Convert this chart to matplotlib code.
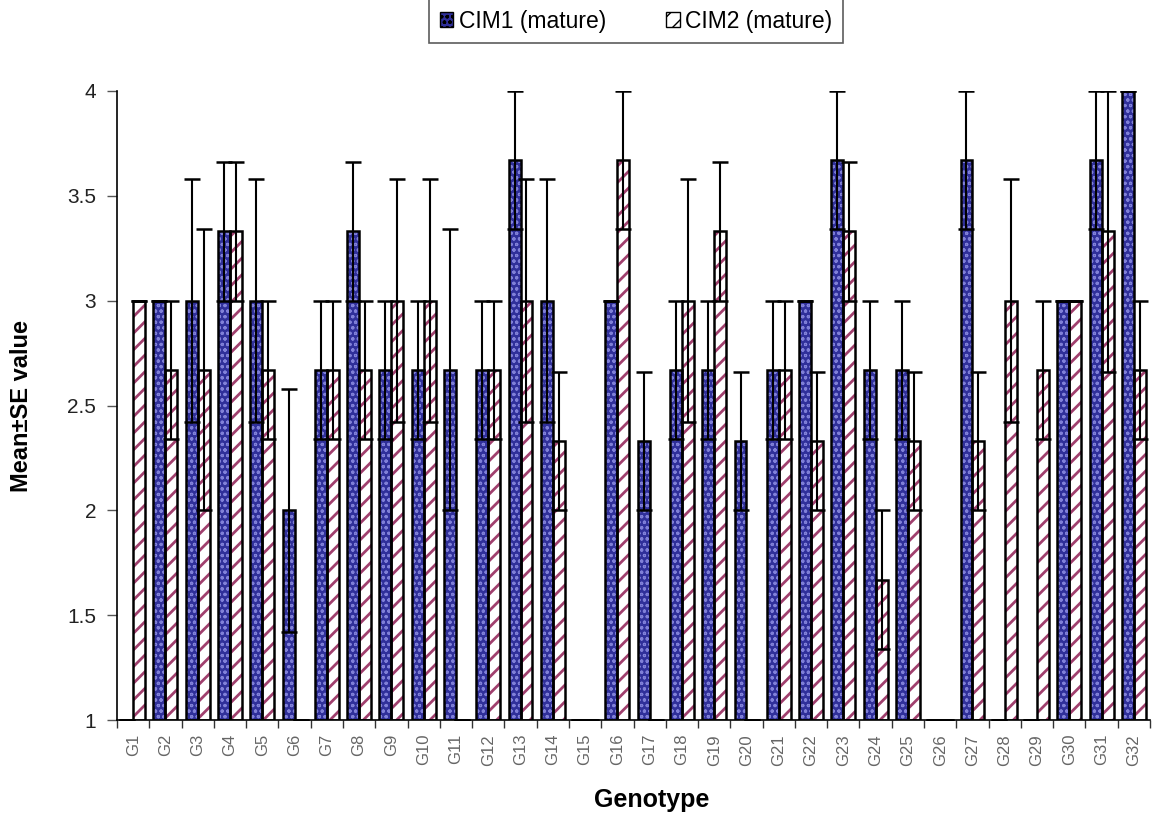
import numpy as np
import matplotlib.pyplot as plt

plt.rcParams['font.family'] = ['Liberation Sans', 'DejaVu Sans']

genotypes = ['G%d' % i for i in range(1, 33)]

cim1_mean = [1, 3, 3, 3.33, 3, 2, 2.67, 3.33, 2.67, 2.67, 2.67, 2.67, 3.67, 3, 1, 3,
             2.33, 2.67, 2.67, 2.33, 2.67, 3, 3.67, 2.67, 2.67, 1, 3.67, 1, 1, 3, 3.67, 4]
cim1_se = [0, 0, 0.58, 0.33, 0.58, 0.58, 0.33, 0.33, 0.33, 0.33, 0.67, 0.33, 0.33, 0.58, 0, 0,
           0.33, 0.33, 0.33, 0.33, 0.33, 0, 0.33, 0.33, 0.33, 0, 0.33, 0, 0, 0, 0.33, 0]

cim2_mean = [3, 2.67, 2.67, 3.33, 2.67, 1, 2.67, 2.67, 3, 3, 1, 2.67, 3, 2.33, 1, 3.67,
             1, 3, 3.33, 1, 2.67, 2.33, 3.33, 1.67, 2.33, 1, 2.33, 3, 2.67, 3, 3.33, 2.67]
cim2_se = [0, 0.33, 0.67, 0.33, 0.33, 0, 0.33, 0.33, 0.58, 0.58, 0, 0.33, 0.58, 0.33, 0, 0.33,
           0, 0.58, 0.33, 0, 0.33, 0.33, 0.33, 0.33, 0.33, 0, 0.33, 0.58, 0.33, 0, 0.67, 0.33]

yticks = [1, 1.5, 2, 2.5, 3, 3.5, 4]
ytick_labels = ['1', '1.5', '2', '2.5', '3', '3.5', '4']


def hatched_bars(ax, x, h, w, face, hatch, hcolor, hlw):
    bottom = 1
    hgt = np.array(h) - bottom
    bars = ax.bar(x, hgt, w, bottom=bottom, color=face, edgecolor=hcolor,
                  hatch=hatch, linewidth=0, zorder=2)
    for b in bars:
        if hasattr(b, 'set_hatch_linewidth'):
            b.set_hatch_linewidth(hlw)
    ax.bar(x, hgt, w, bottom=bottom, fill=False, edgecolor='black',
           linewidth=1.8, zorder=3)
    return bars


fig = plt.figure(figsize=(11.54, 8.16), dpi=100)
ax = fig.add_axes([117 / 1154, 1 - 720 / 816, 1033 / 1154, 629 / 816])

x = np.arange(len(genotypes))
w = 0.37

b1 = hatched_bars(ax, x - w / 2, cim1_mean, w, '#30309a', 'ooo', '#8080d8', 0.8)
b2 = hatched_bars(ax, x + w / 2, cim2_mean, w, 'white', '//', '#a0406e', 2.0)

ax.errorbar(x - w / 2, cim1_mean, yerr=cim1_se, fmt='none', ecolor='black',
            elinewidth=1.5, capsize=6, capthick=1.8, zorder=4)
ax.errorbar(x + w / 2, cim2_mean, yerr=cim2_se, fmt='none', ecolor='black',
            elinewidth=1.5, capsize=6, capthick=1.8, zorder=4)

ax.set_xlim(-0.5, len(genotypes) - 0.5)
ax.set_ylim(1, 4)
ax.set_yticks(yticks)
ax.set_yticklabels(ytick_labels, fontsize=15, color='#222222')
ax.tick_params(axis='y', length=7, width=1, color='#555555', pad=8)

ax.set_xticks(x)
ax.set_xticklabels(genotypes, rotation=90, fontsize=12, color='#666666')
ax.tick_params(axis='x', which='major', length=0, pad=10)
ax.set_xticks(np.arange(-0.5, len(genotypes), 1), minor=True)
ax.tick_params(axis='x', which='minor', length=6, width=1, color='#333333')

for s in ['top', 'right']:
    ax.spines[s].set_visible(False)
ax.spines['left'].set_linewidth(1.2)
ax.spines['bottom'].set_linewidth(1.2)

fig.text(652 / 1154, 1 - 800 / 816, 'Genotype', ha='center', va='center',
         fontsize=18, fontweight='bold')
fig.text(22 / 1154, 1 - 406 / 816, 'Mean±SE value', ha='center', va='center',
         rotation=90, fontsize=17, fontweight='bold')

leg = fig.legend([b1, b2], ['CIM1 (mature)', 'CIM2 (mature)'], loc='lower center',
                 bbox_to_anchor=(636 / 1154, 1 - 43 / 816), ncol=2, fontsize=16.5,
                 frameon=True, fancybox=False, handlelength=0.6, handleheight=0.6,
                 columnspacing=2.6, handletextpad=0.25, borderpad=0.45,
                 borderaxespad=0)
leg.get_frame().set_edgecolor('#333333')
leg.get_frame().set_linewidth(1.2)
for hp in leg.legend_handles:
    hp.set_linewidth(1)
    hp.set_edgecolor('black')

fig.savefig('out.png', dpi=100)
